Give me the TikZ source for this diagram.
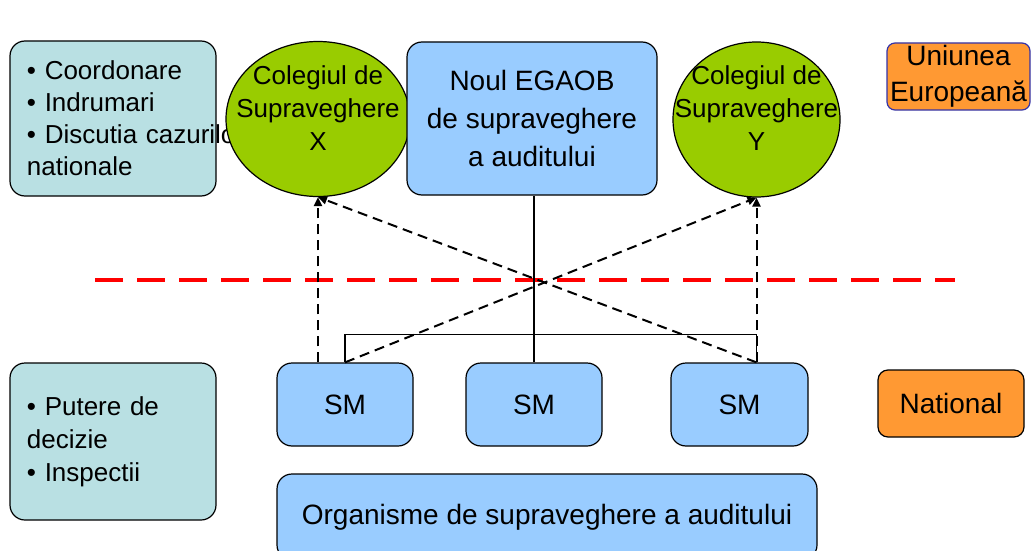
\documentclass[tikz,border=0pt]{standalone}
\usepackage{fontspec}
\setmainfont{Liberation Sans}
\usetikzlibrary{shapes.geometric,arrows.meta}

\definecolor{notebg}{HTML}{B9E0E3}
\definecolor{colgreen}{HTML}{99CC00}
\definecolor{smblue}{HTML}{99CCFF}
\definecolor{levelorange}{HTML}{FF9933}
\definecolor{eublue}{HTML}{3333AA}

\tikzset{
  notebox/.style={draw=black, fill=notebg, line width=1.2pt, rounded corners=15pt,
    text width=172pt, inner xsep=17pt, inner ysep=0pt, align=left,
    font=\fontsize{26}{32}\selectfont},
  college/.style={ellipse, draw=black, fill=colgreen, line width=1.2pt, inner sep=0pt},
  collegetext/.style={align=center, yshift=11pt, font=\fontsize{26}{33}\selectfont},
  smbox/.style={draw=black, fill=smblue, line width=1.2pt, rounded corners=15pt,
    inner sep=0pt, align=center, font=\fontsize{28}{38}\selectfont},
  levelbox/.style={draw=black, fill=levelorange, line width=1.2pt, rounded corners=10pt,
    inner sep=0pt, align=center, font=\fontsize{28}{36}\selectfont},
  linkline/.style={black, line width=1.2pt},
  voteline/.style={black, line width=2pt, dash pattern=on 10pt off 6pt,
    -{Triangle[length=9pt,width=8pt]}}
}

\begin{document}
\begin{tikzpicture}[x=1pt, y=-1pt]

\useasboundingbox (0,0) rectangle (1031,551);


% Left notes, upper level
\path 
(113,118.5) node [notebox, minimum height=155pt] (noteup) {• Coordonare\\• Indrumari\\\mbox{• Discutia cazurilor}\\nationale};

% Left notes, lower level
\path 
(113,441.5) node [notebox, minimum height=157pt, font=\fontsize{26}{33}\selectfont] (notedown) {• Putere de\\decizie\\• Inspectii};


% Colegiul X
\path 
(318,119) node [college, minimum width=184pt, minimum height=155pt,
  label={[collegetext]center:Colegiul de\\Supraveghere\\X}] (cx) {};

% Noul EGAOB
\path 
(532,118.5) node [smbox, minimum width=250pt, minimum height=153pt] (egaob) {Noul EGAOB\\de supraveghere\\a auditului};

% Colegiul Y
\path 
(756.5,119.5) node [college, minimum width=167pt, minimum height=155pt,
  label={[collegetext]center:Colegiul de\\Supraveghere\\Y}] (cy) {};

% Uniunea Europeana
\path 
(958.5,76.5) node [levelbox, draw=eublue, rounded corners=8pt, minimum width=143pt, minimum height=67pt] (eu) {Uniunea\\Europeană};


% Border between the levels
\draw[red, line width=4pt, dash pattern=on 28pt off 14pt] (95,280) -- (955,280);


% SM boxes
\path 
(345,404.5) node [smbox, minimum width=136pt, minimum height=83pt] (sm1) {SM};
\path 
(534,404.5) node [smbox, minimum width=136pt, minimum height=83pt] (sm2) {SM};
\path 
(739.5,404.5) node [smbox, minimum width=137pt, minimum height=83pt] (sm3) {SM};

% National
\path 
(951,403.5) node [levelbox, minimum width=146pt, minimum height=67pt] (nat) {National};

% Organisme
\path 
(547,517) node [smbox, minimum width=540pt, minimum height=86pt] (org) {Organisme de supraveghere a auditului};


% EGAOB to the SM
\draw[linkline] (sm2.north) -- (sm2.north |- egaob.south);
\draw[linkline] (sm1.north) -- ++(0,-28) -| (cy.south |- sm3.north);

% SM to the colleges
\draw[voteline] (cx.south |- sm1.north) -- (cx.south);
\draw[voteline] (sm1.north) -- (cy.south);
\draw[voteline] (cy.south |- sm3.north) -- (cx.south);
\draw[voteline] (cy.south |- sm3.north) -- (cy.south);


\end{tikzpicture}
\end{document}
